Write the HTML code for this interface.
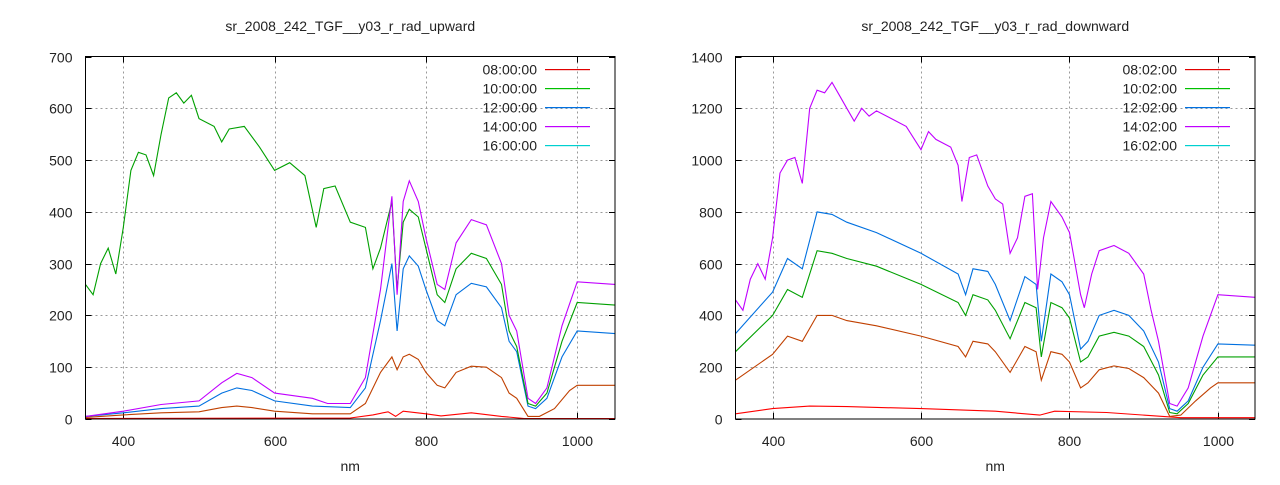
<!DOCTYPE html>
<html><head><meta charset="utf-8"><style>
body{margin:0;background:#fff;}
svg text{font-family:"Liberation Sans",sans-serif;font-size:14px;fill:#222;}
</style></head><body>
<svg id="s" width="1280" height="480" xmlns="http://www.w3.org/2000/svg"></svg>
<script>
const S=document.getElementById('s');let h='';
function plot(o){
 const {L,R,T,B,ymax,ystep,title,labels,series}=o;
 const X=n=>L+(n-350)*(R-L)/700, Y=v=>B-v*(B-T)/ymax;
 h+=`<text x="${(L+R)/2}" y="31" text-anchor="middle">${title}</text>`;
 h+=`<text x="${(L+R)/2}" y="471" text-anchor="middle">nm</text>`;
 for(let v=0;v<=ymax;v+=ystep){const y=Math.round(Y(v))+0.5;
  if(v>0&&v<ymax)h+=`<line x1="${L}" x2="${R}" y1="${y}" y2="${y}" stroke="#999" stroke-dasharray="2,3"/>`;
  h+=`<line x1="${L}" x2="${L+6}" y1="${y}" y2="${y}" stroke="#000"/><line x1="${R}" x2="${R-6}" y1="${y}" y2="${y}" stroke="#000"/>`;
  h+=`<text x="${L-13}" y="${y+5}" text-anchor="end">${v}</text>`;}
 for(let n=400;n<=1000;n+=200){const x=Math.round(X(n))+0.5;
  h+=`<line x1="${x}" x2="${x}" y1="${T}" y2="${B}" stroke="#999" stroke-dasharray="2,3"/>`;
  h+=`<line x1="${x}" x2="${x}" y1="${B}" y2="${B-6}" stroke="#000"/><line x1="${x}" x2="${x}" y1="${T}" y2="${T+6}" stroke="#000"/>`;
  h+=`<text x="${x}" y="${B+27}" text-anchor="middle">${n}</text>`;}
 const cols=['#e00000','#00c000','#0070e0','#c000ff','#00d0d0'];
 labels.forEach((l,i)=>{const y=T+13+i*19;
  h+=`<text x="${R-78}" y="${y+5}" text-anchor="end">${l}</text>`;
  h+=`<rect x="${R-70}" y="${y-0.5}" width="45" height="1.2" fill="${cols[i]}"/>`;});
 series.forEach(([c,d])=>{let p=[];for(let i=0;i<d.length;i+=2)p.push(X(d[i]).toFixed(1)+','+Y(Math.min(d[i+1],ymax)).toFixed(1));
  h+=`<polyline points="${p.join(' ')}" fill="none" stroke="${c}" stroke-width="1.1"/>`;});
 h+=`<rect x="${L}" y="${T}" width="${R-L}" height="${B-T}" fill="none" stroke="#000"/>`;
}
plot({L:85.5,R:615,T:56.5,B:419,ymax:700,ystep:100,title:'sr_2008_242_TGF__y03_r_rad_upward',
labels:['08:00:00','10:00:00','12:00:00','14:00:00','16:00:00'],
series:[
['#c04000',[350,3,400,8,450,12,500,14,530,22,550,25,570,22,600,15,650,10,700,10,720,30,740,90,755,120,762,95,770,120,778,125,790,115,800,90,815,65,825,60,840,90,860,102,880,100,900,80,910,50,920,40,935,5,950,5,970,20,990,55,1000,65,1050,65]],
['#0070e0',[350,5,400,12,450,20,500,25,530,50,550,60,570,55,600,35,650,25,700,22,720,60,740,190,755,300,762,170,770,290,778,315,790,295,800,250,815,190,825,180,840,240,860,262,880,255,900,215,910,150,920,130,935,25,945,20,960,40,980,120,1000,170,1050,165]],
['#00a000',[350,260,360,240,370,300,380,330,390,280,400,370,410,480,420,515,430,510,440,470,450,550,460,620,470,630,480,610,490,625,500,580,520,565,530,535,540,560,560,565,580,525,600,480,620,495,640,470,655,370,665,445,680,450,700,380,720,370,730,290,740,330,755,420,762,250,770,380,778,405,790,390,800,330,815,240,825,225,840,290,860,320,880,310,900,260,910,170,920,140,935,30,945,25,960,50,980,150,1000,225,1050,220]],
['#c000ff',[350,5,400,15,450,28,500,35,530,70,550,88,570,80,600,50,650,40,670,30,700,30,720,80,740,250,755,430,762,240,770,420,778,460,790,420,800,350,815,260,825,250,840,340,860,385,880,375,900,300,910,200,920,170,935,40,945,30,960,60,980,180,1000,265,1050,260]],
['#ff0000',[350,1,700,2,730,8,750,14,760,5,770,15,800,10,820,6,860,12,900,5,930,1,1050,1]]
]});
plot({L:735.5,R:1255,T:56.5,B:419,ymax:1400,ystep:200,title:'sr_2008_242_TGF__y03_r_rad_downward',
labels:['08:02:00','10:02:00','12:02:00','14:02:00','16:02:00'],
series:[
['#ff0000',[350,20,400,40,450,50,500,48,600,40,700,30,760,15,780,30,850,25,950,5,1050,5]],
['#c04000',[350,150,400,250,420,320,440,300,460,400,480,400,500,380,540,360,600,320,650,280,660,240,670,300,690,290,700,260,720,180,740,280,755,260,762,150,775,260,790,250,800,220,815,120,825,140,840,190,860,205,880,195,900,160,920,100,935,10,950,15,970,70,990,120,1000,140,1050,140]],
['#00a000',[350,260,400,400,420,500,440,470,460,650,480,640,500,620,540,590,600,520,650,450,660,400,670,480,690,460,700,420,720,310,740,450,755,430,762,240,775,450,790,430,800,390,815,220,825,240,840,320,860,335,880,320,900,280,920,170,935,25,945,20,960,60,980,170,1000,240,1050,240]],
['#0070e0',[350,330,400,490,420,620,440,580,460,800,480,790,500,760,540,720,600,640,650,560,660,480,670,580,690,570,700,520,720,380,740,550,755,520,762,300,775,560,790,530,800,480,815,270,825,300,840,400,860,420,880,400,900,340,920,220,935,40,945,30,960,70,980,200,1000,290,1050,285]],
['#c000ff',[350,460,360,420,370,540,380,600,390,540,400,700,410,950,420,1000,430,1010,440,910,450,1200,460,1270,470,1260,480,1300,490,1250,500,1200,510,1150,520,1200,530,1170,540,1190,560,1160,580,1130,600,1040,610,1110,620,1080,640,1050,650,980,655,840,665,1010,675,1020,690,900,700,850,710,830,720,640,730,700,740,860,750,870,757,500,765,700,775,840,790,780,800,720,815,480,820,430,830,560,840,650,860,670,880,640,900,560,910,420,920,300,935,60,945,50,960,120,980,320,1000,480,1050,470]]
]});
S.innerHTML=h;
</script>
</body></html>
